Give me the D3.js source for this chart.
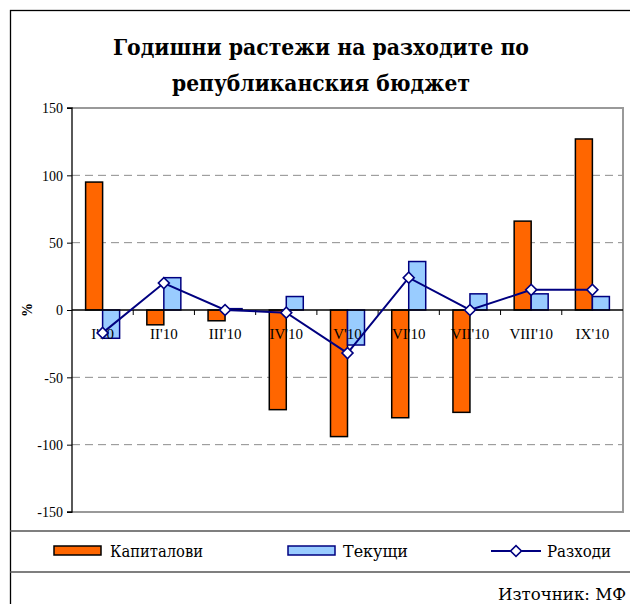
<!DOCTYPE html>
<html><head><meta charset="utf-8">
<script src="https://cdnjs.cloudflare.com/ajax/libs/d3/7.8.5/d3.min.js"></script>
<style>body{margin:0;background:#fff}svg{display:block}</style>
</head><body>
<script>
const categories = ["I'10","II'10","III'10","IV'10","V'10","VI'10","VII'10","VIII'10","IX'10"];
const capital = [95, -11, -8, -74, -94, -80, -76, 66, 127];
const current = [-21, 24, 1, 10, -26, 36, 12, 12, 10];
const total = [-17, 20, 0, -2, -32, 24, 0, 15, 15];
const yTicks = [150, 100, 50, 0, -50, -100, -150];
const titleLines = ["Годишни растежи на разходите по", "републиканския бюджет"];
const legendLabels = ["Капиталови", "Текущи", "Разходи"];
const sourceText = "Източник: МФ";

(function(){
const W = 630, H = 604;
const svg = d3.select("body").append("svg").attr("width", W).attr("height", H);
const serif = "'Liberation Serif','DejaVu Serif',serif";
const cyr = "'DejaVu Serif','Liberation Serif',serif";

// outer frame
svg.append("rect").attr("x", 10.5).attr("y", 10.5).attr("width", 640).attr("height", 640)
  .attr("fill", "#fff").attr("stroke", "#000").attr("stroke-width", 1.3);

// title
const tl = [{t: titleLines[0], y: 55, w: 416}, {t: titleLines[1], y: 91, w: 298}];
tl.forEach(d => {
  svg.append("text").attr("x", 321).attr("y", d.y).attr("text-anchor", "middle")
    .attr("font-family", cyr).attr("font-weight", "bold").attr("font-size", 23)
    .attr("textLength", d.w).attr("lengthAdjust", "spacingAndGlyphs").text(d.t);
});

const pL = 72, pR = 623, pT = 108, pB = 512;
const y = d3.scaleLinear().domain([-150, 150]).range([pB, pT]);
const x = d3.scaleBand().domain(categories).range([pL, pR]);
const x1 = d3.scaleBand().domain(["cap", "cur"]).range([0, 34]);
const off = (x.bandwidth() - 34) / 2;

// gridlines
svg.append("g").selectAll("line").data(yTicks.filter(v => v !== 0 && Math.abs(v) !== 150)).join("line")
  .attr("x1", pL).attr("x2", pR).attr("y1", d => y(d)).attr("y2", d => y(d))
  .attr("stroke", "#8c8c8c").attr("stroke-width", 1).attr("stroke-dasharray", "8,5");

// plot border (top, right, bottom)
svg.append("path").attr("d", `M${pL},${pT}H${pR}V${pB}H${pL}`)
  .attr("fill", "none").attr("stroke", "#999").attr("stroke-width", 2);

// bars
const g = svg.append("g");
categories.forEach((c, i) => {
  const vals = [{k: "cap", v: capital[i]}, {k: "cur", v: current[i]}];
  g.selectAll(null).data(vals).join("rect")
    .attr("x", d => x(c) + off + x1(d.k))
    .attr("y", d => y(Math.max(0, d.v)))
    .attr("width", x1.bandwidth())
    .attr("height", d => Math.abs(y(d.v) - y(0)))
    .attr("fill", d => d.k === "cap" ? "#FF6600" : "#99CCFF")
    .attr("stroke", d => d.k === "cap" ? "#000" : "#000080")
    .attr("stroke-width", 1.5);
});

// y axis
const yAxis = d3.axisLeft(y).tickValues(yTicks).tickSize(5).tickFormat(d => String(d));
const ya = svg.append("g").attr("transform", `translate(${pL},0)`).call(yAxis);
ya.select(".domain").attr("stroke", "#000").attr("stroke-width", 1.3).attr("d", `M-5,${pT}H0V${pB}H-5`);
ya.selectAll(".tick line").attr("stroke", "#000");
ya.selectAll(".tick text").attr("font-family", serif).attr("font-size", 14).attr("fill", "#000").attr("x", -9).attr("dy", "0.35em");

// zero axis
svg.append("line").attr("x1", pL).attr("x2", pR).attr("y1", y(0)).attr("y2", y(0))
  .attr("stroke", "#000").attr("stroke-width", 1.3);
svg.append("g").selectAll("line").data(categories.slice(1)).join("line")
  .attr("x1", d => x(d)).attr("x2", d => x(d)).attr("y1", y(0)).attr("y2", y(0) + 5)
  .attr("stroke", "#000").attr("stroke-width", 1);
svg.append("g").selectAll("text").data(categories).join("text")
  .attr("x", d => x(d) + x.bandwidth() / 2).attr("y", y(0) + 29)
  .attr("text-anchor", "middle").attr("font-family", serif).attr("font-size", 15).text(d => d);

// % label
svg.append("text").attr("transform", `translate(32,${y(0)}) rotate(-90)`)
  .attr("text-anchor", "middle").attr("font-family", serif).attr("font-weight", "bold")
  .attr("font-size", 14).text("%");

// line
const line = d3.line().x((d, i) => x(categories[i]) + x.bandwidth() / 2).y(d => y(d));
svg.append("path").datum(total).attr("d", line).attr("fill", "none")
  .attr("stroke", "#000080").attr("stroke-width", 2);
const diamond = d3.symbol().type(d3.symbolSquare).size(60);
svg.append("g").selectAll("path").data(total).join("path")
  .attr("d", diamond)
  .attr("transform", (d, i) => `translate(${x(categories[i]) + x.bandwidth() / 2},${y(d)}) rotate(45)`)
  .attr("fill", "#fff").attr("stroke", "#000080").attr("stroke-width", 1.6);

// legend separators
[531, 572].forEach(yy => svg.append("line").attr("x1", 10).attr("x2", W).attr("y1", yy).attr("y2", yy)
  .attr("stroke", "#555").attr("stroke-width", 1.3));

// legend
const ly = 551;
svg.append("rect").attr("x", 54).attr("y", 546).attr("width", 47).attr("height", 9)
  .attr("fill", "#FF6600").attr("stroke", "#000").attr("stroke-width", 1.5);
svg.append("rect").attr("x", 288).attr("y", 546).attr("width", 47).attr("height", 9)
  .attr("fill", "#99CCFF").attr("stroke", "#000080").attr("stroke-width", 1.5);
svg.append("line").attr("x1", 491).attr("x2", 541).attr("y1", ly).attr("y2", ly)
  .attr("stroke", "#000080").attr("stroke-width", 2);
svg.append("path").attr("d", diamond).attr("transform", `translate(516,${ly}) rotate(45)`)
  .attr("fill", "#fff").attr("stroke", "#000080").attr("stroke-width", 1.6);
const lx = [110, 343, 547];
const lw = [93, 65, 64];
legendLabels.forEach((t, i) => svg.append("text").attr("x", lx[i]).attr("y", ly + 6)
  .attr("font-family", cyr).attr("font-size", 16)
  .attr("textLength", lw[i]).attr("lengthAdjust", "spacingAndGlyphs").text(t));

// source
svg.append("text").attr("x", 498).attr("y", 600).attr("font-family", cyr).attr("font-size", 17)
  .attr("textLength", 128).attr("lengthAdjust", "spacingAndGlyphs").text(sourceText);
})();
</script>
</body></html>
